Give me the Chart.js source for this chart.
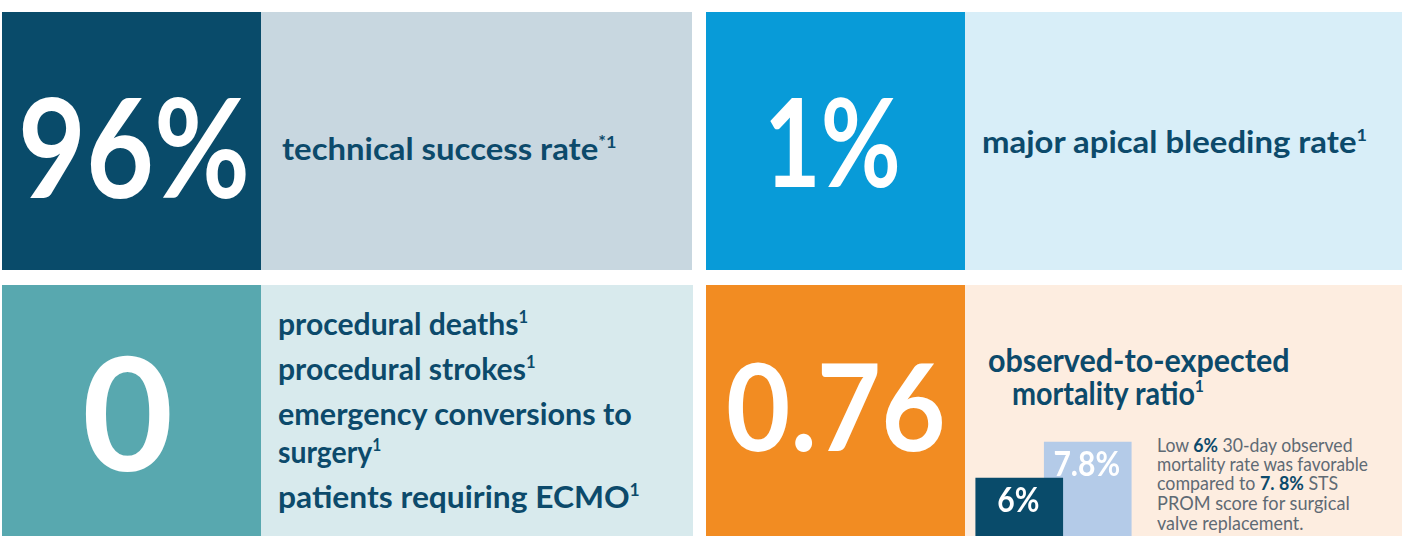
<!DOCTYPE html>
<html>
<head>
<meta charset="utf-8">
<script src="https://cdn.jsdelivr.net/npm/chart.js"></script>
<style>
html,body{margin:0;padding:0;background:#fff;overflow:hidden;}
body{width:1402px;height:536px;position:relative;font-family:Lato,'Open Sans',sans-serif;}
.p{position:absolute;}
.t{position:absolute;white-space:nowrap;line-height:0.85;transform-origin:0 0;color:#0c4a6b;font-weight:700;}
.big{position:absolute;white-space:nowrap;line-height:0.85;transform-origin:0 0;color:#fff;font-weight:700;font-size:120px;}
.t sup{font-size:0.55em;line-height:0.85;vertical-align:baseline;position:relative;top:-0.72em;}
.s{font-weight:400;color:#5f6a74;font-size:19px;}
.s b{font-weight:700;color:#0c4a6b;}
#barWrap{position:absolute;left:960px;top:432px;width:180px;height:170px;}
</style>
</head>
<body>
<!-- panels -->
<div class="p" style="left:2px;top:12px;width:259px;height:258px;background:#094b6a"></div>
<div class="p" style="left:261px;top:12px;width:431px;height:258px;background:#c8d7e0"></div>
<div class="p" style="left:706px;top:12px;width:259px;height:258px;background:#089bd8"></div>
<div class="p" style="left:965px;top:12px;width:437px;height:258px;background:#d8eef8"></div>
<div class="p" style="left:2px;top:285px;width:259px;height:251px;background:#58a8af"></div>
<div class="p" style="left:261px;top:285px;width:432px;height:251px;background:#d8eaed"></div>
<div class="p" style="left:706px;top:285px;width:259px;height:251px;background:#f28c22"></div>
<div class="p" style="left:965px;top:285px;width:437px;height:251px;background:#fdede0"></div>

<!-- big numbers -->
<div class="big" id="b1">96%</div>
<div class="big" id="b2">1%</div>
<div class="big" id="b3">0</div>
<div class="big" id="b4">0.76</div>

<!-- labels -->
<div class="t" id="t1" style="font-size:31px">technical success rate<sup>*1</sup></div>
<div class="t" id="t2" style="font-size:31px">major apical bleeding rate<sup>1</sup></div>
<div class="t" id="l1" style="font-size:30px">procedural deaths<sup>1</sup></div>
<div class="t" id="l2" style="font-size:30px">procedural strokes<sup>1</sup></div>
<div class="t" id="l3" style="font-size:30px">emergency conversions to</div>
<div class="t" id="l4" style="font-size:30px">surgery<sup>1</sup></div>
<div class="t" id="l5" style="font-size:30px">patients requiring ECMO<sup>1</sup></div>
<div class="t" id="h1" style="font-size:32px">observed-to-expected</div>
<div class="t" id="h2" style="font-size:32px">mortality ratio<sup>1</sup></div>

<div class="t s" id="s1">Low <b>6%</b> 30-day observed</div>
<div class="t s" id="s2">mortality rate was favorable</div>
<div class="t s" id="s3">compared to <b>7. 8%</b> STS</div>
<div class="t s" id="s4">PROM score for surgical</div>
<div class="t s" id="s5">valve replacement.</div>

<div id="barWrap"><canvas id="bars" width="180" height="170"></canvas></div>

<script>
// ---- data ----
const barCategories = ['Observed 30-day mortality', 'STS PROM'];
const barValues = [6, 7.8];
const barLabels = ['6%', '7.8%'];
const barColors = ['#094b6a', '#b4cbe8'];

// ---- text placement helpers ----
function placeLine(el, x, base, w) {
  el.style.transform = 'none';
  el.style.left = x + 'px';
  el.style.top = '0px';
  let mk = el.querySelector('.mk');
  if (!mk) {
    mk = document.createElement('span');
    mk.className = 'mk';
    mk.style.cssText = 'display:inline-block;width:0;height:0;vertical-align:baseline;';
    el.appendChild(mk);
  }
  const b = mk.offsetTop;
  el.style.top = (base - b) + 'px';
  if (w) {
    const nat = el.offsetWidth;
    el.style.transform = 'scaleX(' + (w / nat) + ')';
  }
}
function placeInk(el, x0, y0, x1, y1) {
  const txt = el.textContent;
  const cs = getComputedStyle(el);
  const ctx = document.createElement('canvas').getContext('2d');
  ctx.font = cs.fontWeight + ' 100px ' + cs.fontFamily;
  const m = ctx.measureText(txt);
  const asc = m.actualBoundingBoxAscent, desc = m.actualBoundingBoxDescent;
  const size = 100 * (y1 - y0) / (asc + desc);
  const k = size / 100;
  const inkW = (m.actualBoundingBoxLeft + m.actualBoundingBoxRight) * k;
  const sx = (x1 - x0) / inkW;
  el.style.fontSize = size + 'px';
  const L = x0 + sx * m.actualBoundingBoxLeft * k;
  placeLine(el, L, y0 + asc * k, null);
  el.style.transform = 'scaleX(' + sx + ')';
}
function layout() {
  const $ = id => document.getElementById(id);
  placeInk($('b1'), 23, 97, 247, 199);
  placeInk($('b2'), 770, 97, 898, 188);
  placeInk($('b3'), 85, 357, 170, 473);
  placeInk($('b4'), 728, 363, 942, 452);
  placeLine($('t1'), 282, 160, 334);
  placeLine($('t2'), 982, 153, 385);
  placeLine($('l1'), 278, 335, 250);
  placeLine($('l2'), 278, 380, 258);
  placeLine($('l3'), 278, 425, 354);
  placeLine($('l4'), 278, 463, 103);
  placeLine($('l5'), 278, 508, 362);
  placeLine($('h1'), 988, 372, 302);
  placeLine($('h2'), 1012, 405, 192);
  placeLine($('s1'), 1157, 452, 196);
  placeLine($('s2'), 1157, 471, 211);
  placeLine($('s3'), 1157, 490, 181);
  placeLine($('s4'), 1157, 510, 193);
  placeLine($('s5'), 1157, 530, 146);
}
layout();
if (document.fonts && document.fonts.ready) document.fonts.ready.then(layout);

// ---- chart ----
const labelPlugin = {
  id: 'barValueLabels',
  afterDatasetsDraw(chart) {
    const ctx = chart.ctx;
    chart.data.datasets.forEach((ds, di) => {
      const meta = chart.getDatasetMeta(di);
      meta.data.forEach((bar, i) => {
        if (ds.data[i] == null) return;
        ctx.save();
        ctx.font = '700 35px Lato, sans-serif';
        ctx.fillStyle = '#ffffff';
        ctx.textAlign = 'center';
        ctx.textBaseline = 'alphabetic';
        ctx.translate(bar.x - 1, bar.y + 34);
        ctx.scale(0.86, 1);
        ctx.fillText(barLabels[i], 0, 0);
        ctx.restore();
      });
    });
  }
};

new Chart(document.getElementById('bars'), {
  type: 'bar',
  data: {
    labels: barCategories,
    datasets: barValues.map((v, i) => ({
      label: barCategories[i],
      data: barCategories.map((_, j) => (j === i ? v : null)),
      backgroundColor: barColors[i],
      borderWidth: 0,
      grouped: false,
      barThickness: 87,
      order: i,
      clip: false
    }))
  },
  options: {
    responsive: false,
    animation: false,
    layout: { padding: { left: 25, right: 18, top: 10, bottom: 4 } },
    plugins: { legend: { display: false }, tooltip: { enabled: false } },
    scales: {
      x: { display: false, offset: true },
      y: { display: false, min: 0, max: 7.8 }
    }
  },
  plugins: [labelPlugin]
});
</script>
</body>
</html>
